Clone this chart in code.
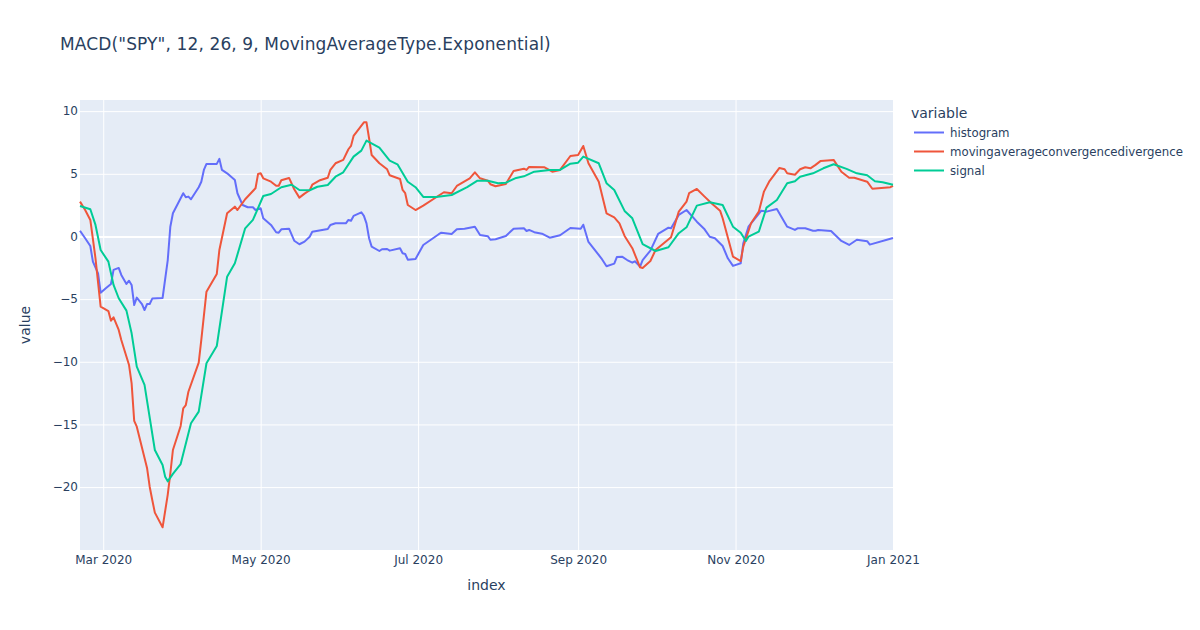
<!DOCTYPE html>
<html>
<head>
<meta charset="utf-8">
<script src="https://cdn.jsdelivr.net/npm/d3@7"></script>
<style>
  html, body { margin: 0; padding: 0; background: #fff; }
  text { font-family: "DejaVu Sans", sans-serif; fill: #2a3f5f; }
  #chartContainer { width: 1200px; height: 630px; overflow: hidden; }
</style>
</head>
<body>
<div id="chartContainer"></div>
<script>
/* --- data: x values are days of 2020 (1 = Jan 1, 367 = Jan 1 2021) --- */
const histogramDays = [52,54,56,57,59,60,62,64,65,67,68,70,71,72,73,74,76,77,78,79,80,84,86,87,88,92,93,94,95,98,99,100,101,105,106,107,109,112,113,115,117,119,120,122,123,126,128,129,130,133,135,137,139,141,142,148,149,151,155,156,157,158,161,162,163,164,165,168,169,171,172,176,177,178,179,182,185,191,192,196,198,201,205,207,210,211,213,217,220,224,225,226,228,231,234,238,242,246,247,249,254,256,259,260,262,264,266,267,269,270,273,276,280,281,284,287,291,294,296,298,301,303,305,308,309,311,316,318,322,326,329,330,333,336,337,338,343,347,350,353,357,358,366,367];
const histogramValues = [0.46,-0.14,-0.76,-2.01,-2.94,-4.49,-4.13,-3.79,-2.67,-2.51,-3.07,-3.79,-3.53,-3.87,-5.47,-4.88,-5.39,-5.87,-5.39,-5.39,-4.96,-4.91,-1.88,0.78,1.85,3.45,3.13,3.18,2.97,3.93,4.37,5.31,5.79,5.79,6.19,5.31,5.04,4.51,3.45,2.51,2.33,2.33,2.11,2.25,1.45,0.92,0.34,0.30,0.57,0.62,-0.34,-0.62,-0.41,-0.02,0.38,0.60,0.92,1.05,1.05,1.32,1.26,1.64,1.93,1.64,1.05,-0.14,-0.81,-1.16,-1.02,-1.00,-1.13,-0.94,-1.34,-1.40,-1.85,-1.80,-0.68,0.18,0.30,0.20,0.57,0.62,0.78,0.12,0.02,-0.26,-0.22,0.04,0.62,0.65,0.44,0.52,0.34,0.22,-0.10,0.10,0.68,0.62,0.94,-0.44,-1.74,-2.38,-2.17,-1.64,-1.61,-1.88,-2.09,-1.98,-2.41,-1.88,-1.13,0.20,0.70,0.65,1.72,2.11,1.18,0.57,-0.02,-0.14,-0.76,-1.74,-2.35,-2.14,-0.54,0.78,2.06,1.98,2.19,0.78,0.52,0.65,0.65,0.46,0.46,0.52,0.44,-0.36,-0.68,-0.26,-0.38,-0.65,-0.18,-0.12];

const macdDays = [52,54,56,58,60,63,64,65,67,68,71,72,73,74,78,79,80,81,84,86,87,88,91,92,93,94,98,99,101,105,106,109,112,113,116,120,121,122,123,126,128,129,130,133,135,137,139,141,142,145,148,149,151,154,156,157,158,162,163,164,165,168,171,172,176,177,178,179,182,185,190,193,196,198,203,205,207,210,211,213,217,220,224,225,226,232,235,238,242,245,247,249,253,256,259,261,263,266,269,270,273,275,281,284,287,288,291,294,297,300,301,305,308,309,312,315,317,319,323,325,326,329,331,333,335,337,339,344,347,350,352,357,359,366,367];
const macdValues = [2.78,2.11,1.32,-1.74,-5.60,-5.95,-6.72,-6.45,-7.46,-8.26,-10.26,-11.72,-14.72,-15.18,-18.50,-19.97,-21.03,-22.04,-23.21,-20.60,-18.90,-17.04,-15.12,-13.71,-13.45,-12.39,-10.07,-8.26,-4.41,-2.99,-1.08,1.85,2.38,2.11,2.97,3.85,4.99,5.04,4.64,4.37,4.05,4.05,4.49,4.67,3.77,3.10,3.42,3.69,4.13,4.49,4.69,5.31,5.84,6.11,6.96,7.22,8.02,9.11,9.11,7.84,6.50,5.84,5.36,4.88,4.59,3.71,3.45,2.51,2.11,2.46,3.13,3.53,3.45,4.03,4.64,5.12,4.64,4.45,4.17,4.01,4.19,5.23,5.41,5.31,5.55,5.52,5.17,5.31,6.42,6.50,7.22,5.84,4.37,1.85,1.53,1.05,0.04,-0.94,-2.46,-2.51,-1.96,-1.08,-0.06,1.98,2.78,3.45,3.79,3.18,2.59,2.06,1.45,-1.61,-1.96,-0.81,1.05,1.98,3.58,4.37,5.47,5.36,5.04,4.93,5.36,5.52,5.44,5.71,6.03,6.11,5.17,4.69,4.69,4.37,3.81,3.93,4.03];

const signalDays = [52,56,58,60,63,65,67,70,72,74,77,81,84,85,86,88,91,95,98,101,105,109,112,116,119,123,126,130,134,137,141,144,148,151,154,158,161,163,168,172,175,179,182,185,190,196,202,206,210,214,217,221,224,228,234,238,242,245,247,253,256,259,263,266,270,275,280,284,287,291,296,301,305,308,310,311,315,318,322,326,329,331,336,340,344,349,353,357,360,363,367];
const signalValues = [2.43,2.17,0.92,-1.08,-2.01,-3.87,-4.93,-5.92,-7.73,-10.39,-11.85,-17.04,-18.24,-19.17,-19.54,-18.95,-18.16,-14.91,-13.98,-10.12,-8.74,-3.21,-2.14,0.65,1.32,3.23,3.39,3.93,4.13,3.71,3.69,3.97,4.11,4.77,5.12,6.37,6.85,7.65,7.09,6.05,5.76,4.37,3.93,3.15,3.15,3.31,3.93,4.45,4.45,4.25,4.29,4.67,4.80,5.17,5.31,5.31,5.81,5.89,6.37,5.84,4.25,3.71,2.04,1.45,-0.62,-1.16,-0.86,0.26,0.73,2.46,2.73,2.51,0.78,0.30,-0.36,-0.02,0.38,2.30,2.91,4.25,4.41,4.77,5.04,5.44,5.76,5.39,5.04,4.88,4.41,4.33,4.13];

const seriesNames = ["histogram", "movingaverageconvergencedivergence", "signal"];
const seriesColors = ["#636efa", "#EF553B", "#00cc96"];

const yTicks = [10, 5, 0, -5, -10, -15, -20];
const xTickDays = [61, 122, 183, 245, 306, 367];

/* --- layout --- */
const width = 1200, height = 630;
const margin = { top: 100, right: 307, bottom: 80, left: 80 };

const dayToDate = (d) => new Date(Date.UTC(2020, 0, d));

const xScale = d3
  .scaleUtc()
  .domain([dayToDate(52), dayToDate(367)])
  .range([margin.left, width - margin.right]);
const yScale = d3
  .scaleLinear()
  .domain([-25.02, 10.89])
  .range([height - margin.bottom, margin.top]);

const svg = d3
  .select("#chartContainer")
  .append("svg")
  .attr("width", width)
  .attr("height", height)
  .attr("viewBox", "0 0 " + width + " " + height);

// 背景
svg
  .append("rect")
  .attr("x", margin.left)
  .attr("y", margin.top)
  .attr("width", width - margin.left - margin.right)
  .attr("height", height - margin.top - margin.bottom)
  .attr("fill", "#E5ECF6");

/* --- grid --- */
const xGrid = svg
  .append("g")
  .attr("transform", "translate(0," + (height - margin.bottom) + ")")
  .call(
    d3
      .axisBottom(xScale)
      .tickValues(xTickDays.map(dayToDate))
      .tickSize(-(height - margin.top - margin.bottom))
      .tickFormat("")
  );
const yGrid = svg
  .append("g")
  .attr("transform", "translate(" + margin.left + ",0)")
  .call(
    d3
      .axisLeft(yScale)
      .tickValues(yTicks)
      .tickSize(-(width - margin.left - margin.right))
      .tickFormat("")
  );
xGrid.select(".domain").remove();
yGrid.select(".domain").remove();
xGrid.selectAll("line").attr("stroke", "#fff").attr("stroke-width", 1);
yGrid
  .selectAll("line")
  .attr("stroke", "#fff")
  .attr("stroke-width", (d) => (d === 0 ? 2 : 1));

/* --- tick labels --- */
const xAxis = svg
  .append("g")
  .attr("transform", "translate(0," + (height - margin.bottom) + ")")
  .call(
    d3
      .axisBottom(xScale)
      .tickValues(xTickDays.map(dayToDate))
      .tickSize(0)
      .tickPadding(5)
      .tickFormat(d3.utcFormat("%b %Y"))
  );
const yAxis = svg
  .append("g")
  .attr("transform", "translate(" + margin.left + ",0)")
  .call(
    d3
      .axisLeft(yScale)
      .tickValues(yTicks)
      .tickSize(0)
      .tickPadding(2)
      .tickFormat((d) => String(d).replace("-", "\u2212"))
  );
xAxis.select(".domain").remove();
yAxis.select(".domain").remove();
svg
  .selectAll("g.tick text")
  .style("font-family", '"DejaVu Sans", sans-serif')
  .style("font-size", "12px")
  .attr("fill", "#2a3f5f");

/* --- lines --- */
const line = d3
  .line()
  .x((d) => xScale(dayToDate(d[0])))
  .y((d) => yScale(d[1]));

const allSeries = [
  d3.zip(histogramDays, histogramValues),
  d3.zip(macdDays, macdValues),
  d3.zip(signalDays, signalValues),
];

svg
  .append("g")
  .selectAll("path")
  .data(allSeries)
  .enter()
  .append("path")
  .attr("d", line)
  .attr("fill", "none")
  .attr("stroke", (d, i) => seriesColors[i])
  .attr("stroke-width", 2)
  .attr("stroke-linejoin", "round");

/* --- titles --- */
svg
  .append("text")
  .attr("x", 60)
  .attr("y", 50)
  .style("font-size", "17px")
  .style("letter-spacing", "0.12px")
  .text('MACD("SPY", 12, 26, 9, MovingAverageType.Exponential)');

svg
  .append("text")
  .attr("x", 486.5)
  .attr("y", 590)
  .attr("text-anchor", "middle")
  .style("font-size", "14px")
  .text("index");

svg
  .append("text")
  .attr("transform", "translate(30,325) rotate(-90)")
  .attr("text-anchor", "middle")
  .style("font-size", "14px")
  .text("value");

/* --- legend --- */
const legendContainer = svg
  .append("g")
  .attr("transform", "translate(911,0)");

legendContainer
  .append("text")
  .attr("x", 0)
  .attr("y", 118)
  .style("font-size", "14px")
  .text("variable");

const legendRows = legendContainer
  .selectAll(".legend-row")
  .data(seriesNames)
  .enter()
  .append("g")
  .attr("class", "legend-row")
  .attr("transform", (d, i) => "translate(0," + (132.5 + i * 19) + ")");

legendRows
  .append("line")
  .attr("x1", 3)
  .attr("x2", 33)
  .attr("stroke", (d, i) => seriesColors[i])
  .attr("stroke-width", 2);

legendRows
  .append("text")
  .attr("x", 39)
  .attr("y", 4)
  .style("font-size", "11.75px")
  .text((d) => d);
</script>
</body>
</html>
